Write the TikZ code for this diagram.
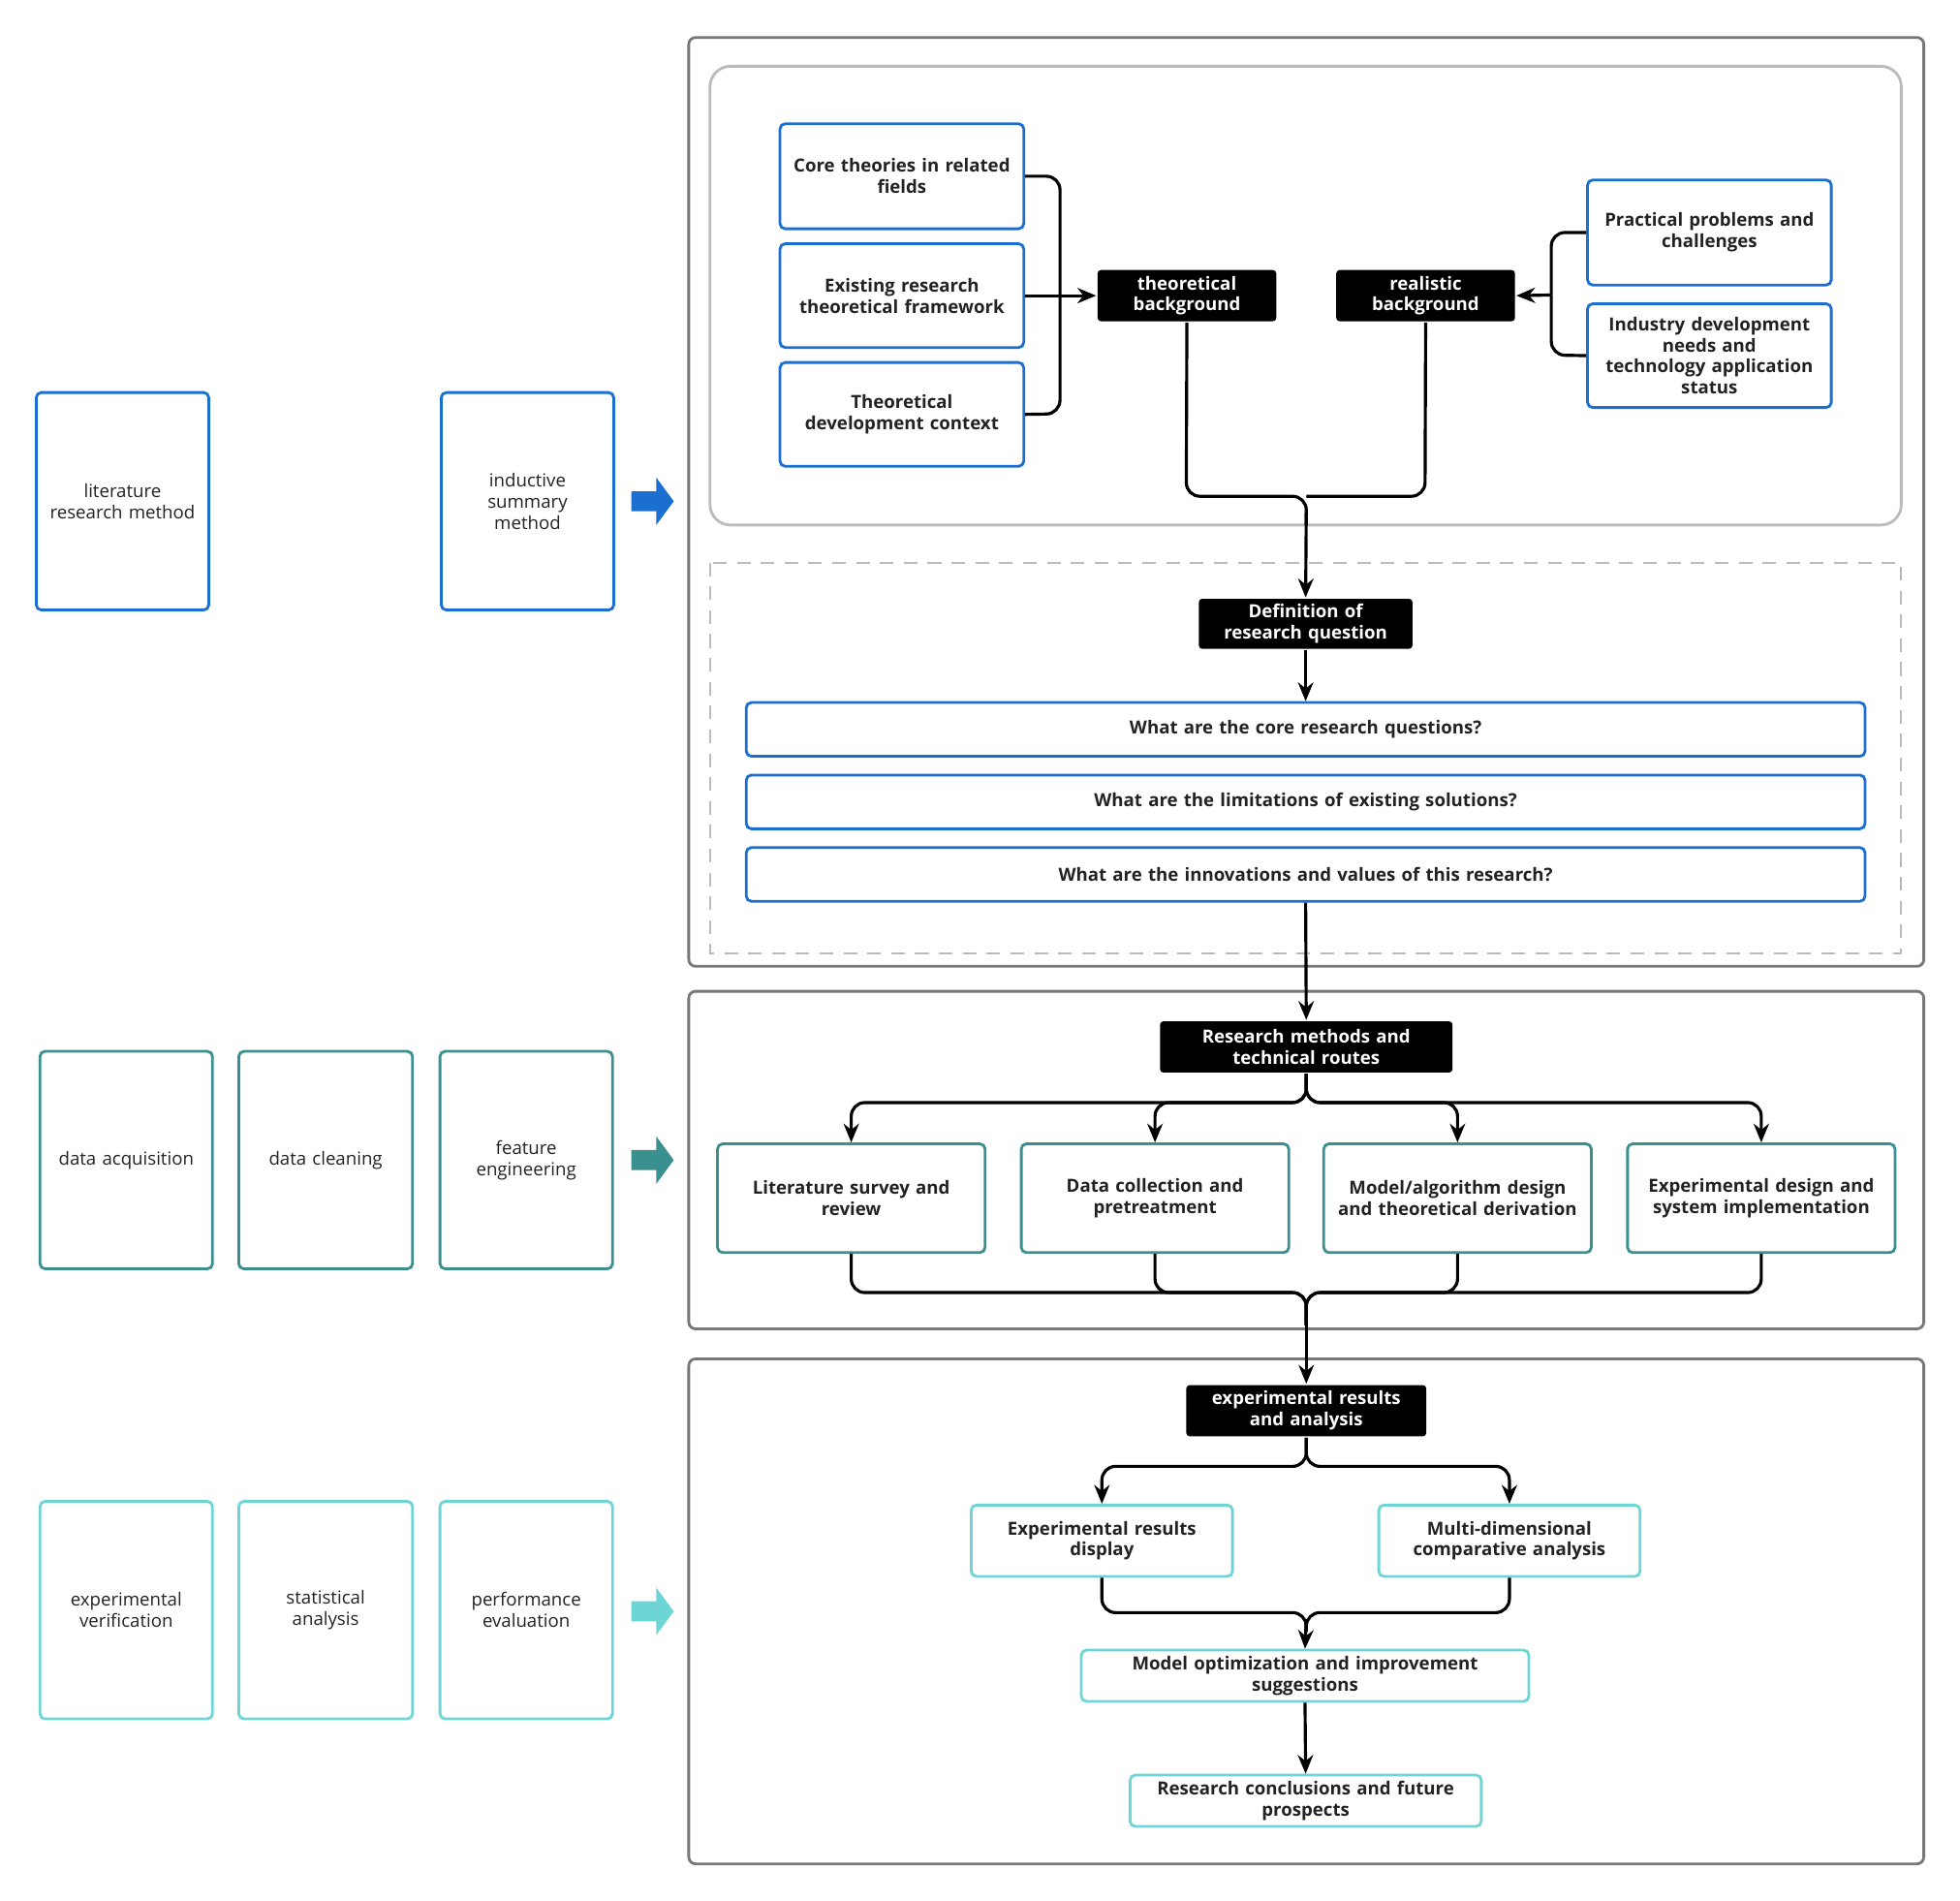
\documentclass[tikz,border=0pt]{standalone}
\usepackage{fontspec}
\setmainfont{Open Sans}
\usetikzlibrary{arrows.meta}
\hyphenpenalty=10000
\exhyphenpenalty=10000
\definecolor{cblue}{HTML}{1A6FD1}
\definecolor{cteal}{HTML}{3A8F8F}
\definecolor{ccyan}{HTML}{6DD5D5}
\definecolor{cframe}{HTML}{777777}
\definecolor{cinner}{HTML}{BBBBBB}
\definecolor{ctext}{HTML}{222222}
\newcommand\bx[7]{\node[#6, minimum width={(#4-#2)*0.0129cm}, minimum height={(#5-#3)*0.0129cm}, text width={(#4-#2-4)*0.0129cm}] (#1) at ({(#2+#4)/2},{(#3+#5)/2}) {#7};}
\tikzset{
 base/.style={inner sep=0pt, align=center, font=\fontsize{5.3}{6.2}\selectfont\bfseries, text=ctext, rounded corners=1.5pt, line width=0.8pt},
 bluebox/.style={base, draw=cblue},
 tealbox/.style={base, draw=cteal},
 cyanbox/.style={base, draw=ccyan},
 blackbox/.style={base, fill=black, text=white, rounded corners=1pt},
 leftbox/.style={base, font=\fontsize{5.3}{6.2}\selectfont},
 frame/.style={draw=cframe, line width=0.8pt, rounded corners=2pt},
 conn/.style={line width=0.9pt, rounded corners=4pt},
 arr/.style={conn, -{Stealth[length=5.5pt,width=4.5pt]}},
}
\begin{document}
\begin{tikzpicture}[x=0.0129cm,y=-0.0129cm]
\useasboundingbox (0,0) rectangle (1568,1520);
% frames
\draw[frame] (551,30) rectangle (1539,773);
\draw[frame] (551,793) rectangle (1539,1063);
\draw[frame] (551,1087) rectangle (1539,1491);
\draw[draw=cinner, line width=0.8pt, rounded corners=6pt] (568,53) rectangle (1521,420);
\draw[draw=cinner, line width=0.6pt, dash pattern=on 4pt off 3pt] (568,450) rectangle (1521,763);
% left column
\bx{lit}{29}{314}{167}{488}{leftbox,draw=cblue}{literature\\research method}
\bx{ind}{353}{314}{491}{488}{leftbox,draw=cblue}{inductive\\summary\\method}
\bx{da}{32}{841}{170}{1015}{leftbox,draw=cteal}{data acquisition}
\bx{dc}{191}{841}{330}{1015}{leftbox,draw=cteal}{data cleaning}
\bx{fe}{352}{841}{490}{1015}{leftbox,draw=cteal}{feature\\engineering}
\bx{ev}{32}{1201}{170}{1375}{leftbox,draw=ccyan}{experimental\\verification}
\bx{sa}{191}{1201}{330}{1375}{leftbox,draw=ccyan}{statistical\\analysis}
\bx{pe}{352}{1201}{490}{1375}{leftbox,draw=ccyan}{performance\\evaluation}
\foreach \yy/\cc in {401/cblue,928/cteal,1289/ccyan}{
 \fill[\cc] (505,\yy-8) -- (525,\yy-8) -- (525,\yy-19) -- (539,\yy) -- (525,\yy+19) -- (525,\yy+8) -- (505,\yy+8) -- cycle;}
% section 1
\bx{ct}{624}{99}{819}{183}{bluebox}{Core theories in related\\fields}
\bx{ex}{624}{195}{819}{278}{bluebox}{Existing research\\theoretical framework}
\bx{td}{624}{290}{819}{373}{bluebox}{Theoretical\\development context}
\bx{pp}{1270}{144}{1465}{228}{bluebox}{Practical problems and\\challenges}
\bx{idn}{1270}{243}{1465}{326}{bluebox}{Industry development\\needs and\\technology application\\status}
\bx{tb}{878}{216}{1021}{257}{blackbox}{theoretical\\background}
\bx{rb}{1069}{216}{1212}{257}{blackbox}{realistic\\background}
\bx{def}{959}{479}{1130}{519}{blackbox}{Definition of\\research question}
\bx{q1}{597}{562}{1492}{605}{bluebox}{What are the core research questions?}
\bx{q2}{597}{620}{1492}{663}{bluebox}{What are the limitations of existing solutions?}
\bx{q3}{597}{678}{1492}{721}{bluebox}{What are the innovations and values of this research?}
\draw[conn] (ct.east) -- (848,141) -- (848,236);
\draw[conn] (td.east) -- (848,331) -- (848,236);
\draw[arr] (ex.east) -- (tb.west);
\draw[conn] (pp.west) -- (1241,186) -- (1241,236);
\draw[conn] (idn.west) -- (1241,284) -- (1241,236);
\draw[arr] (1241,236) -- (rb.east);
\draw[conn] (tb.south) -- (949,397) -- (1045,397) -- (1045,420);
\draw[conn] (rb.south) -- (1140,397) -- (1045,397);
\draw[arr] (1045,410) -- (def.north);
\draw[arr] (def.south) -- (q1.north);
% section 2
\bx{rm}{928}{817}{1162}{858}{blackbox}{Research methods and\\technical routes}
\draw[arr] (q3.south) -- (rm.north);
\bx{m1}{574}{915}{788}{1002}{tealbox}{Literature survey and\\review}
\bx{m2}{817}{915}{1031}{1002}{tealbox}{Data collection and\\pretreatment}
\bx{m3}{1059}{915}{1273}{1002}{tealbox}{Model/algorithm design\\and theoretical derivation}
\bx{m4}{1302}{915}{1516}{1002}{tealbox}{Experimental design and\\system implementation}
\foreach \n in {m1,m2,m3,m4}{
 \draw[arr] (rm.south) -- (1045,882) -- (\n.north |- 0,882) -- (\n.north);
 \draw[conn] (\n.south) -- (\n.south |- 0,1034) -- (1045,1034) -- (1045,1060);}
% section 3
\bx{er}{949}{1108}{1141}{1149}{blackbox}{experimental results\\and analysis}
\draw[arr] (1045,1050) -- (er.north);
\bx{c1}{777}{1204}{986}{1261}{cyanbox}{Experimental results\\display}
\bx{c2}{1103}{1204}{1312}{1261}{cyanbox}{Multi-dimensional\\comparative analysis}
\bx{mo}{865}{1320}{1223}{1361}{cyanbox}{Model optimization and improvement\\suggestions}
\bx{rc}{904}{1420}{1185}{1461}{cyanbox}{Research conclusions and future\\prospects}
\foreach \n in {c1,c2}{
 \draw[arr] (er.south) -- (1045,1173) -- (\n.north |- 0,1173) -- (\n.north);
 \draw[conn] (\n.south) -- (\n.south |- 0,1290) -- (1045,1290) -- (1045,1305);}
\draw[arr] (1045,1295) -- (mo.north);
\draw[arr] (mo.south) -- (rc.north);
\end{tikzpicture}
\end{document}
